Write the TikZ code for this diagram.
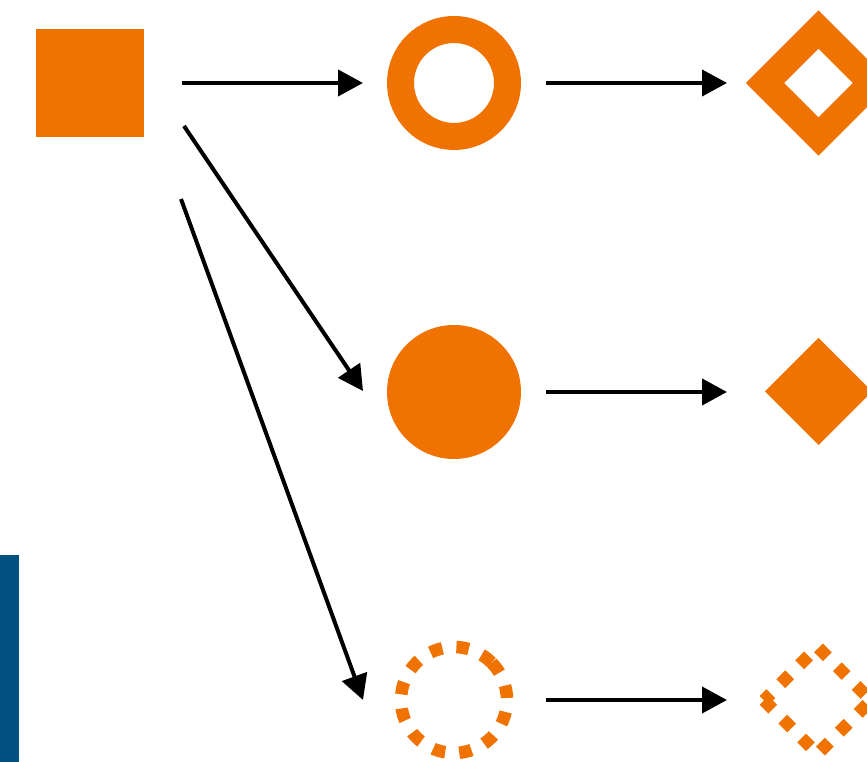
\documentclass[tikz,border=0pt]{standalone}
\usetikzlibrary{arrows.meta,shapes.geometric,calc}
\definecolor{orng}{RGB}{240,114,0}
\definecolor{bluebar}{RGB}{0,80,130}
\tikzset{
  shp/.style={inner sep=0pt,outer sep=0pt},
  arr/.style={line width=3pt,-{Triangle[length=18.75pt,width=19.5pt]}},
  dotline/.style={draw=orng,line width=9.4pt,dash pattern=on 9.4pt off 10.6pt}
}
\begin{document}
\begin{tikzpicture}[x=0.75pt,y=0.75pt]
\useasboundingbox (0,0) rectangle (867,762);
\clip (0,0) rectangle (867,762);
% blue bar
\fill[bluebar] (0,0) rectangle (19,207);
% shapes
\node[shp,rectangle,fill=orng,minimum size=81pt] (sq) at (90,679) {};
\node[shp,circle,draw=orng,line width=20.25pt,minimum size=80.25pt] (ring) at (454,679) {};
\node[shp,diamond,draw=orng,line width=20.25pt,minimum size=80.25pt] (od) at (818.5,679) {};
\node[shp,circle,fill=orng,minimum size=100.5pt] (fc) at (454,370) {};
\node[shp,diamond,fill=orng,minimum size=80.25pt] (fd) at (818.5,370.5) {};
\node[shp,circle,minimum size=79.5pt] (dc) at (454,62) {};
\node[shp,diamond,minimum size=80.25pt] (dd) at (817.5,61.6) {};
\draw[dotline] ($(dc.center)+(45:39.75pt)$) arc[start angle=45,delta angle=360,radius=39.75pt];
\draw[dotline,dash phase=2.25pt] (dd.west) -- (dd.north) -- (dd.east) -- (dd.south) -- cycle;
% connector endpoints
\coordinate (a1s) at (182,679); \coordinate (a1e) at (363,679);
\coordinate (a2s) at (546,679); \coordinate (a2e) at (727,679);
\coordinate (a3s) at (184,636); \coordinate (a3e) at (363,371);
\coordinate (a4s) at (181,563); \coordinate (a4e) at (363,62);
\coordinate (a5s) at (546,370); \coordinate (a5e) at (727,370);
\coordinate (a6s) at (546,62);  \coordinate (a6e) at (727,62);
\draw[arr] (a1s) -- (a1e);
\draw[arr] (a2s) -- (a2e);
\draw[arr] (a3s) -- (a3e);
\draw[arr] (a4s) -- (a4e);
\draw[arr] (a5s) -- (a5e);
\draw[arr] (a6s) -- (a6e);
\end{tikzpicture}
\end{document}
